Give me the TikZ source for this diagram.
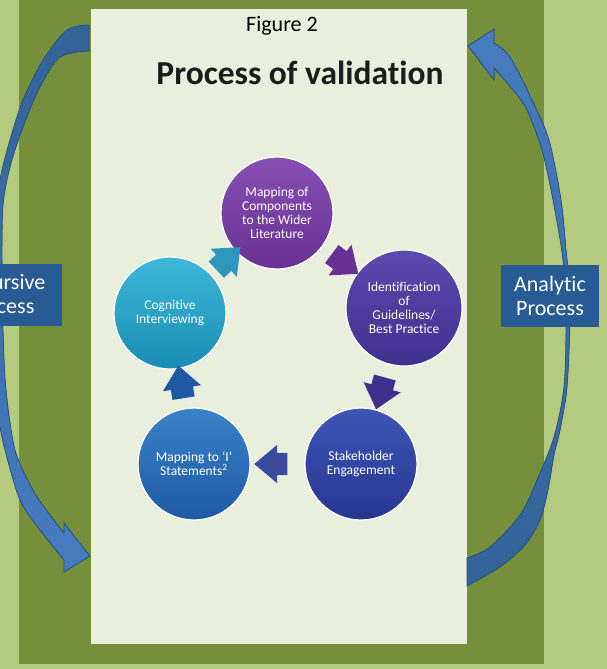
\documentclass[tikz,border=0pt]{standalone}
\usepackage{fontspec}
\setmainfont{Carlito}[Ligatures=NoCommon]
\usetikzlibrary{calc,shapes.arrows}
\definecolor{pistachio}{RGB}{180, 203, 127}
\definecolor{fern}{RGB}{117, 143, 58}
\definecolor{linen}{RGB}{234, 239, 221}
\definecolor{belizehole}{RGB}{50, 98, 150}
\definecolor{peterriver}{RGB}{70, 124, 192}
\definecolor{midnight}{RGB}{40, 84, 136}
\definecolor{navyblue}{RGB}{40, 90, 148}
\definecolor{inkblack}{RGB}{28, 28, 28}
\definecolor{wisteria}{RGB}{134, 80, 178}
\definecolor{amethyst}{RGB}{104, 48, 148}
\definecolor{violet}{RGB}{92, 74, 174}
\definecolor{indigo}{RGB}{64, 48, 142}
\definecolor{sapphire}{RGB}{62, 86, 182}
\definecolor{marine}{RGB}{38, 54, 144}
\definecolor{cobalt}{RGB}{58, 130, 200}
\definecolor{denim}{RGB}{30, 90, 164}
\definecolor{lagoon}{RGB}{62, 184, 216}
\definecolor{teal}{RGB}{24, 140, 180}

\begin{document}
\begin{tikzpicture}[x=1pt, y=-1pt,
    ball/.style={circle, minimum size=112pt, inner sep=0pt, draw=white!80, line width=1.2pt,
                 text=white, align=center, font=\fontsize{13.5}{14}\selectfont},
    turn/.style={single arrow, minimum height=33pt, inner xsep=0pt, inner ysep=11pt, single arrow head extend=8pt,
                 single arrow tip angle=80, midway, sloped, allow upside down},
    tag/.style={rectangle, fill=navyblue, text=white, minimum width=98pt, minimum height=62pt,
                align=center, font=\fontsize{22}{24}\selectfont}]
            \useasboundingbox (0,0) rectangle (607,669);
            \clip (0,0) rectangle (607,669);
            \fill[pistachio] (  0,  0) rectangle (607,669);
            \fill[fern]      ( 19,  0) rectangle (544,664);
            \fill[linen]     ( 91,  9) rectangle (467,644);

            \filldraw[draw=midnight, top color=belizehole, bottom color=peterriver, line width=0.8pt]
                 plot[smooth] coordinates {(89,25) (67,30) (43,60) (23,100) (10,140) (0,180) (-8,240) (-10,300)
                                           (-7,370) (-2,415) (5,450) (20,500) (40,530) (64,560)}
                 -- (64,572) -- (90,556) -- (64,523) -- (64,533)
                 -- plot[smooth] coordinates {(64,533) (50,515) (33,490) (15,450) (6,390) (3,330) (2,260)
                                           (3,205) (10,167) (23,127) (40,87) (60,57) (89,51)} -- cycle;
            \filldraw[draw=midnight, top color=peterriver, bottom color=belizehole, line width=0.8pt]
                 plot[smooth] coordinates {(467,586) (500,567) (525,545) (540,520) (548,490) (554,455) (560,430)
                                           (567,387) (570,320) (569,280) (566,250) (561,200) (549,140) (532,100)
                                           (510,57) (494,43)}
                 -- (494,29) -- (468,46) -- (494,80) -- (494,68)
                 -- plot[smooth] coordinates {(494,68) (513,90) (527,110) (542,150) (553,200) (563,260) (566,320)
                                           (564,387) (554,437) (537,480) (520,515) (490,547) (467,558)} -- cycle;

            \node[tag, minimum width=123pt] (discursive) at (  0.5,294.5) {Discursive\\Process};
            \node[tag]                      (analytic)   at (550,296)     {Analytic\\Process};

            \node[font=\fontsize{22}{26}\selectfont]                          (figno) at (282,26) {Figure 2};
            \node[font=\fontsize{33.5}{40}\selectfont\bfseries, text=inkblack] (title) at (300,73) {Process of validation};

            \node[ball, top color=wisteria, bottom color=amethyst]                    (comp)  at (277,213) {Mapping of\\Components\\to the Wider\\Literature};
            \node[ball, top color=violet,   bottom color=indigo, minimum size=116pt] (ident) at (404,308) {Identification\\of\\Guidelines/\\Best Practice};
            \node[ball, top color=sapphire, bottom color=marine]                      (stake) at (361,464) {Stakeholder\\Engagement};
            \node[ball, top color=cobalt,   bottom color=denim]                       (mapi)  at (194,464) {Mapping to ‘I’\\Statements\textsuperscript{2}};
            \node[ball, top color=lagoon,   bottom color=teal]                        (cog)   at (170,313) {Cognitive\\Interviewing};

            \path (cog)   -- (comp)  node[turn, fill=teal!90]     (cogcomp)   {};
            \path (comp)  -- (ident) node[turn, fill=amethyst]    (compident) {};
            \path (ident) -- (stake) node[turn, fill=indigo]      (identstake){};
            \path (stake) -- (mapi)  node[turn, fill=marine!90]   (stakemapi) {};
            \path (mapi)  -- (cog)   node[turn, fill=denim]       (mapicog)   {};
        \end{tikzpicture}
\end{document}
